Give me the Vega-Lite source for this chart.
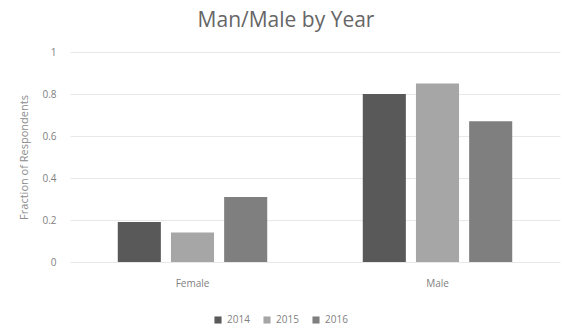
{
  "$schema": "https://vega.github.io/schema/vega-lite/v6.json",
  "width": 490,
  "height": 210,
  "autosize": {"type": "none"},
  "padding": {"left": 70, "top": 52, "right": 2, "bottom": 71},
  "background": "white",
  "title": {
    "text": "Man/Male by Year",
    "fontSize": 21,
    "font": "Open Sans",
    "fontWeight": "normal",
    "color": "#666666",
    "anchor": "middle",
    "dx": -29,
    "offset": 16
  },
  "data": {
    "values": [
      {"gender": "Female", "year": "2014", "fraction": 0.19},
      {"gender": "Female", "year": "2015", "fraction": 0.14},
      {"gender": "Female", "year": "2016", "fraction": 0.31},
      {"gender": "Male", "year": "2014", "fraction": 0.80},
      {"gender": "Male", "year": "2015", "fraction": 0.85},
      {"gender": "Male", "year": "2016", "fraction": 0.67}
    ]
  },
  "mark": {"type": "bar"},
  "encoding": {
    "x": {
      "field": "gender",
      "type": "nominal",
      "scale": {"paddingInner": 0.39, "paddingOuter": 0.195},
      "axis": {
        "title": null,
        "labelAngle": 0,
        "domain": false,
        "ticks": false,
        "labelColor": "#7f7f7f",
        "labelFont": "Open Sans",
        "labelFontSize": 10,
        "labelPadding": 16
      }
    },
    "xOffset": {
      "field": "year",
      "type": "nominal",
      "scale": {"paddingInner": 0.19, "paddingOuter": 0}
    },
    "y": {
      "field": "fraction",
      "type": "quantitative",
      "scale": {"domain": [0, 1]},
      "axis": {
        "title": "Fraction of Respondents",
        "titleColor": "#8c8c8c",
        "titleFont": "Open Sans",
        "titleFontSize": 11,
        "titleFontWeight": "normal",
        "titlePadding": 12,
        "values": [0, 0.2, 0.4, 0.6, 0.8, 1],
        "format": "~g",
        "labelColor": "#7f7f7f",
        "labelFont": "Open Sans",
        "labelFontSize": 10,
        "labelPadding": 14,
        "domain": false,
        "ticks": false,
        "gridColor": "#e8e8e8",
        "gridWidth": 1
      }
    },
    "color": {
      "field": "year",
      "type": "nominal",
      "scale": {"domain": ["2014", "2015", "2016"], "range": ["#595959", "#a6a6a6", "#7f7f7f"]},
      "legend": {
        "title": null,
        "orient": "none",
        "direction": "horizontal",
        "legendX": 143,
        "legendY": 263,
        "symbolType": "square",
        "symbolSize": 50,
        "symbolStrokeWidth": 0,
        "labelColor": "#7f7f7f",
        "labelFont": "Open Sans",
        "labelFontSize": 10,
        "columnPadding": 12
      }
    }
  },
  "config": {"view": {"stroke": null}}
}
